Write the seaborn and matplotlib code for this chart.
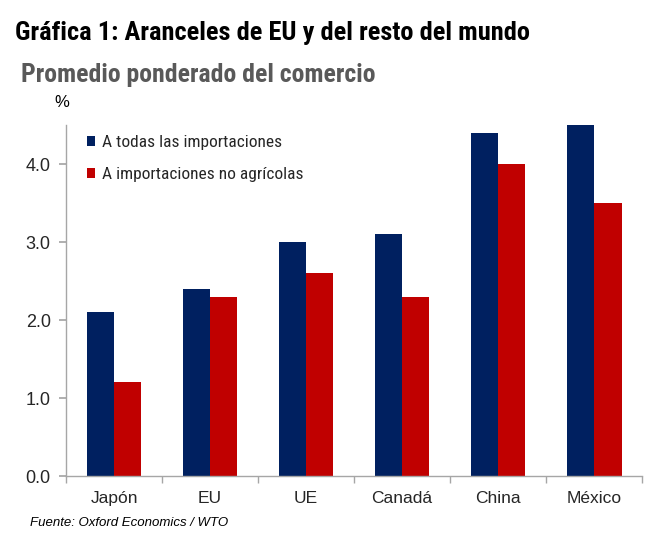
import matplotlib
matplotlib.use("Agg")
import matplotlib.pyplot as plt
import seaborn as sns
import pandas as pd

categories = ["Japón", "EU", "UE", "Canadá", "China", "México"]
todas = [2.1, 2.4, 3.0, 3.1, 4.4, 4.5]
no_agricolas = [1.2, 2.3, 2.6, 2.3, 4.0, 3.5]
series_names = ["A todas las importaciones", "A importaciones no agrícolas"]
yticks = [0.0, 1.0, 2.0, 3.0, 4.0]

COND = ["Roboto Condensed", "Liberation Sans", "DejaVu Sans"]
ARIAL = ["Liberation Sans", "DejaVu Sans"]

sns.set_theme(style="white")
plt.rcParams["font.family"] = ARIAL

df = pd.DataFrame({
    "cat": categories * 2,
    "val": todas + no_agricolas,
    "serie": [series_names[0]] * len(categories) + [series_names[1]] * len(categories),
})

fig = plt.figure(figsize=(6.71, 5.45), dpi=100)
ax = fig.add_axes([0.0984, 0.1266, 0.8586, 0.644])
sns.barplot(data=df, x="cat", y="val", hue="serie", order=categories,
            hue_order=series_names, palette=["#002060", "#C00000"],
            width=0.57, gap=0, saturation=1, ax=ax, legend=True)
for p in ax.patches:
    p.set_edgecolor("none")

ax.set_ylim(0, 4.5)
ax.set_xlim(-0.5, len(categories) - 0.5)
ax.set_yticks(yticks)
ax.set_yticklabels([f"{v:.1f}" for v in yticks], fontsize=13)
ax.set_xticks(range(len(categories)))
ax.set_xticklabels(categories, fontsize=12.5)
ax.set_xlabel("")
ax.set_ylabel("")
for s in ["top", "right"]:
    ax.spines[s].set_visible(False)
for s in ["left", "bottom"]:
    ax.spines[s].set_color("#A6A6A6")
    ax.spines[s].set_linewidth(1)
ax.tick_params(axis="y", which="both", left=True, length=5, color="#A6A6A6", pad=6)
ax.tick_params(axis="x", which="major", bottom=False, pad=5)
ax.set_xticks([i + 0.5 for i in range(-1, len(categories))], minor=True)
ax.tick_params(axis="x", which="minor", bottom=True, length=5, color="#A6A6A6")

leg = ax.legend(loc="upper left", bbox_to_anchor=(0.018, 1.0), frameon=False,
                prop={"family": COND, "size": 12.5}, handlelength=0.5, handleheight=0.5,
                handletextpad=0.35, labelspacing=0.95, borderaxespad=0.2)

fig.text(0.022, 0.94, "Gráfica 1: Aranceles de EU y del resto del mundo",
         fontsize=19, fontweight="bold", color="black", va="center", family=COND)
fig.text(0.031, 0.862, "Promedio ponderado del comercio",
         fontsize=18.5, fontweight="bold", color="#595959", va="center", family=COND)
fig.text(0.092, 0.812, "%", fontsize=12, color="black", va="center", ha="center")
fig.text(0.045, 0.04, "Fuente: Oxford Economics / WTO", fontsize=9.5,
         style="italic", color="black", va="center")

fig.savefig("out.png", dpi=100)
